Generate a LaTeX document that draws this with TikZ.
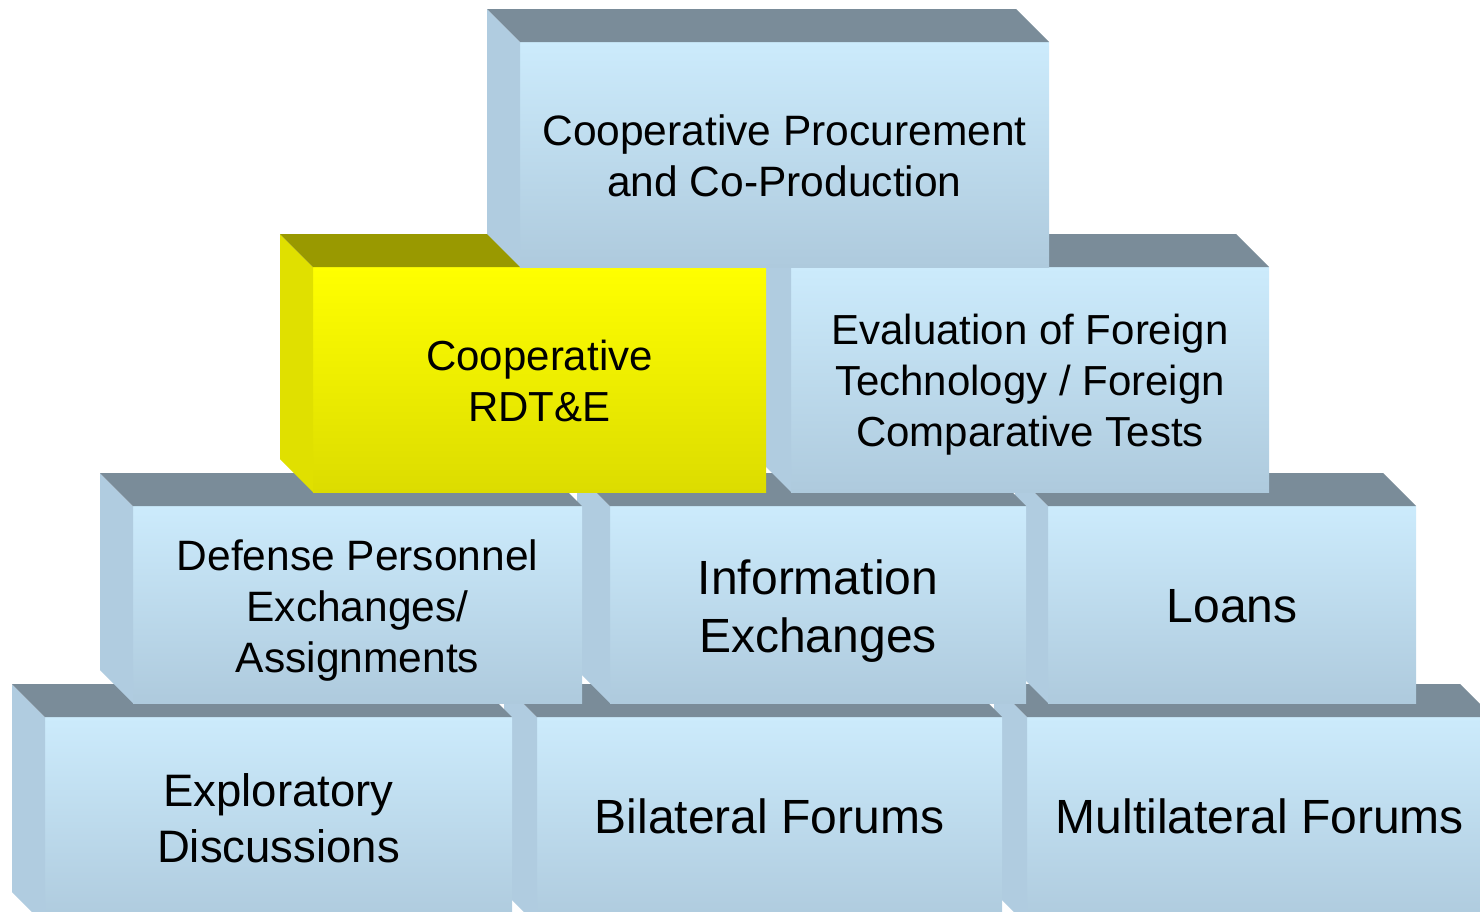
\documentclass[tikz,border=0pt]{standalone}
\usepackage{fontspec}
\setmainfont{Liberation Sans}
\usetikzlibrary{calc}
\definecolor{fTop}{HTML}{CCEBFC}
\definecolor{fBot}{HTML}{AECADD}
\definecolor{bSide}{HTML}{B0CCE0}
\definecolor{bTopFace}{HTML}{7A8C99}
\definecolor{yTop}{HTML}{FFFF00}
\definecolor{yBot}{HTML}{DCDC00}
\definecolor{ySide}{HTML}{E0E000}
\definecolor{yTopFace}{HTML}{999900}
\tikzset{
  face/.style={inner sep=0pt, outer sep=0pt},
  facetext/.style={inner sep=0pt, outer sep=0pt, align=center, text=black},
  bluefront/.style={face, top color=fTop, bottom color=fBot},
  yellowfront/.style={face, top color=yTop, bottom color=yBot},
  blueside/.style={fill=bSide},
  bluetop/.style={fill=bTopFace},
  yellowside/.style={fill=ySide},
  yellowtop/.style={fill=yTopFace}
}
% name, x1, y1, x2, y2, scheme, font, text offset (down), text
\newcommand\cubebox[9]{%
  \node[#6front, minimum width={(#4-#2)*1pt}, minimum height={(#5-#3)*1pt}] (#1) at ({(#2+#4)/2},{(#3+#5)/2}) {};
  \fill[#6side] (#1.north west) -- ++(-33,-33) -- ($(#1.south west)+(-33,-33)$) -- (#1.south west) -- cycle;
  \fill[#6top] (#1.north west) -- ++(-33,-33) -- ($(#1.north east)+(-33,-33)$) -- (#1.north east) -- cycle;
  \node[facetext, font={#7\selectfont}] (#1-text) at ($(#1.center)+(0,#8)$) {#9};
}
\begin{document}
\begin{tikzpicture}[x=1pt, y=-1pt]
\useasboundingbox (0,0) rectangle (1480,911);
\clip (0,0) rectangle (1480,911);
% bottom row
\cubebox{multi}{1027}{717}{1493}{925}{blue}{\fontsize{48}{57}}{-5}{Multilateral Forums}
\cubebox{bilat}{537}{717}{1002}{925}{blue}{\fontsize{48}{57}}{-5}{Bilateral Forums}
\cubebox{explo}{45}{717}{512}{925}{blue}{\fontsize{45.5}{56}}{-3}{Exploratory\\Discussions}
% third row
\cubebox{loans}{1048}{506}{1416}{703}{blue}{\fontsize{48}{57}}{2}{Loans}
\cubebox{info}{610}{506}{1026}{703}{blue}{\fontsize{48}{58}}{7}{Information\\Exchanges}
\cubebox{defense}{133}{506}{582}{703}{blue}{\fontsize{42.5}{51}}{6}{Defense Personnel\\Exchanges/\\Assignments}
% second row
\cubebox{evalft}{791}{267}{1269}{492}{blue}{\fontsize{42}{51}}{5}{Evaluation of Foreign\\Technology / Foreign\\Comparative Tests}
\cubebox{rdte}{313}{267}{766}{492}{yellow}{\fontsize{42}{51}}{1}{Cooperative\\RDT\&E}
% top row
\cubebox{procure}{520}{42}{1049}{267}{blue}{\fontsize{42.5}{51}}{1}{Cooperative Procurement\\and Co-Production}
\end{tikzpicture}
\end{document}
